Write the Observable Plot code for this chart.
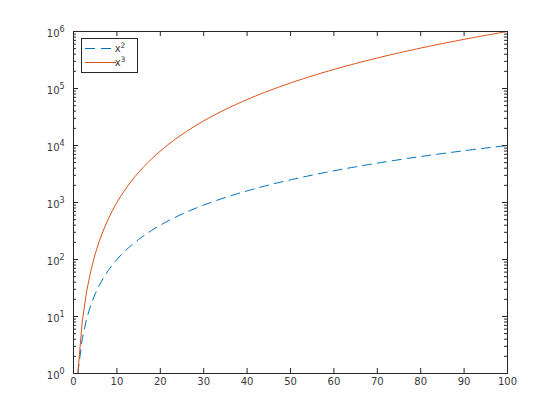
<!DOCTYPE html>
<html>
<head>
<meta charset="utf-8">
<script src="https://cdn.jsdelivr.net/npm/d3@7"></script>
<script src="https://cdn.jsdelivr.net/npm/@observablehq/plot@0.6"></script>
<style>
  html, body { margin: 0; padding: 0; background: #ffffff; }
  svg { display: block; }
</style>
</head>
<body>
<script>
const xs = [1,2,3,4,5,6,7,8,9,10,11,12,13,14,15,16,17,18,19,20,21,22,23,24,25,26,27,28,29,30,31,32,33,34,35,36,37,38,39,40,41,42,43,44,45,46,47,48,49,50,51,52,53,54,55,56,57,58,59,60,61,62,63,64,65,66,67,68,69,70,71,72,73,74,75,76,77,78,79,80,81,82,83,84,85,86,87,88,89,90,91,92,93,94,95,96,97,98,99,100];
const squares = [1,4,9,16,25,36,49,64,81,100,121,144,169,196,225,256,289,324,361,400,441,484,529,576,625,676,729,784,841,900,961,1024,1089,1156,1225,1296,1369,1444,1521,1600,1681,1764,1849,1936,2025,2116,2209,2304,2401,2500,2601,2704,2809,2916,3025,3136,3249,3364,3481,3600,3721,3844,3969,4096,4225,4356,4489,4624,4761,4900,5041,5184,5329,5476,5625,5776,5929,6084,6241,6400,6561,6724,6889,7056,7225,7396,7569,7744,7921,8100,8281,8464,8649,8836,9025,9216,9409,9604,9801,10000];
const cubes = [1,8,27,64,125,216,343,512,729,1000,1331,1728,2197,2744,3375,4096,4913,5832,6859,8000,9261,10648,12167,13824,15625,17576,19683,21952,24389,27000,29791,32768,35937,39304,42875,46656,50653,54872,59319,64000,68921,74088,79507,85184,91125,97336,103823,110592,117649,125000,132651,140608,148877,157464,166375,175616,185193,195112,205379,216000,226981,238328,250047,262144,274625,287496,300763,314432,328509,343000,357911,373248,389017,405224,421875,438976,456533,474552,493039,512000,531441,551368,571787,592704,614125,636056,658503,681472,704969,729000,753571,778688,804357,830584,857375,884736,912673,941192,970299,1000000];
const xTicks = [0,10,20,30,40,50,60,70,80,90,100];
const yTickValues = [1,10,100,1000,10000,100000,1000000];
const yTickExponents = ["0","1","2","3","4","5","6"];
const yMinorTicks = [2,3,4,5,6,7,8,9,20,30,40,50,60,70,80,90,200,300,400,500,600,700,800,900,2000,3000,4000,5000,6000,7000,8000,9000,20000,30000,40000,50000,60000,70000,80000,90000,200000,300000,400000,500000,600000,700000,800000,900000];
const seriesNames = ["x", "x"];
const seriesSups = ["2", "3"];

const data = xs.map((x, i) => ({x, sq: squares[i], cube: cubes[i]}));
const yLabels = yTickValues.map((v, i) => ({v, e: yTickExponents[i]}));

const W = 560, H = 420, ML = 73, MR = 53, MT = 31, MB = 47;
const FW = W - ML - MR, FH = H - MT - MB;
const AX = "#262626";
const TX = "#3a3a3a";
const BLUE = "#0072BD", ORANGE = "#D95319";

const chart = Plot.plot({
  width: W, height: H,
  marginLeft: ML, marginRight: MR, marginTop: MT, marginBottom: MB,
  style: {fontFamily: "DejaVu Sans", fontSize: "10px", color: AX, background: "#ffffff"},
  x: {domain: [0, 100], label: null, axis: null},
  y: {type: "log", domain: [1, 1e6], label: null, axis: null},
  marks: [
    Plot.line(data, {x: "x", y: "sq", stroke: BLUE, strokeWidth: 1, strokeDasharray: "9,6"}),
    Plot.line(data, {x: "x", y: "cube", stroke: ORANGE, strokeWidth: 1}),
    Plot.frame({stroke: AX, strokeWidth: 1}),
    Plot.tickX(xTicks, {x: d => d, stroke: AX, insetTop: FH - 5}),
    Plot.tickX(xTicks, {x: d => d, stroke: AX, insetBottom: FH - 5}),
    Plot.tickY(yTickValues, {y: d => d, stroke: AX, insetRight: FW - 5}),
    Plot.tickY(yTickValues, {y: d => d, stroke: AX, insetLeft: FW - 5}),
    Plot.tickY(yMinorTicks, {y: d => d, stroke: AX, insetRight: FW - 3}),
    Plot.tickY(yMinorTicks, {y: d => d, stroke: AX, insetLeft: FW - 3}),
    Plot.text(xTicks, {x: d => d, text: d => String(d), frameAnchor: "bottom", dy: 11, fill: TX, fontSize: 10}),
    Plot.text(yLabels, {y: "v", text: () => "10", frameAnchor: "left", dx: -14, dy: 2, textAnchor: "end", fill: TX, fontSize: 10}),
    Plot.text(yLabels, {y: "v", text: "e", frameAnchor: "left", dx: -14, dy: -2.5, textAnchor: "start", fill: TX, fontSize: 8})
  ]
});

document.body.appendChild(chart);

// Legend box (top-left inside the axes)
const svg = d3.select(chart);
const lg = svg.append("g").attr("class", "legend");
lg.append("rect")
  .attr("x", 81.5).attr("y", 38.5).attr("width", 56).attr("height", 34)
  .attr("fill", "#ffffff").attr("stroke", AX).attr("stroke-width", 1);
const colors = [BLUE, ORANGE];
const dashes = ["10,6", null];
const rowsY = [48.5, 62.5];
seriesNames.forEach((name, i) => {
  const line = lg.append("line")
    .attr("x1", 85).attr("x2", 116).attr("y1", rowsY[i]).attr("y2", rowsY[i])
    .attr("stroke", colors[i]).attr("stroke-width", 1);
  if (dashes[i]) line.attr("stroke-dasharray", dashes[i]);
  const t = lg.append("text")
    .attr("x", 120).attr("y", rowsY[i] + 3.5)
    .attr("font-family", "DejaVu Sans").attr("font-size", 10).attr("fill", TX)
    .text(name);
  t.append("tspan").attr("dy", -4.5).attr("font-size", 7.5).text(seriesSups[i]);
});
</script>
</body>
</html>
